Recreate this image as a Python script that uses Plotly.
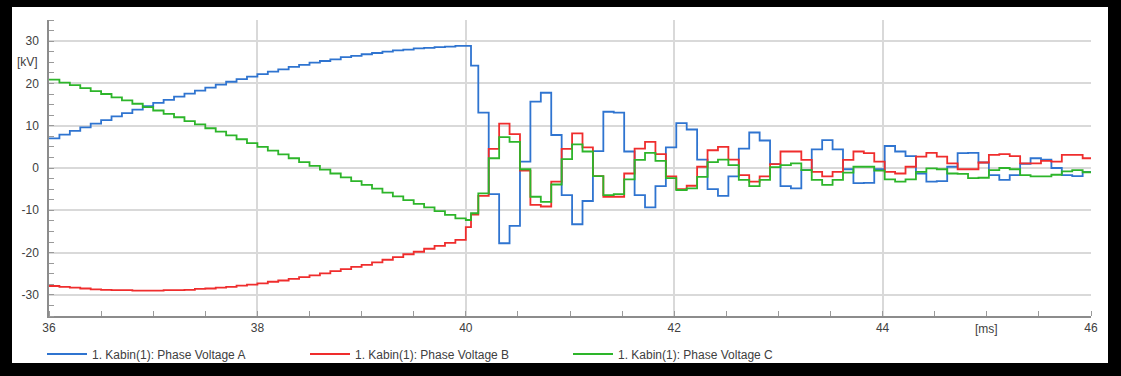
import plotly.graph_objects as go

# Sample times [ms]
time_ms = [36.0, 36.1, 36.2, 36.3, 36.4, 36.5, 36.6, 36.7, 36.8, 36.9,
           37.0, 37.1, 37.2, 37.3, 37.4, 37.5, 37.6, 37.7, 37.8, 37.9,
           38.0, 38.1, 38.2, 38.3, 38.4, 38.5, 38.6, 38.7, 38.8, 38.9,
           39.0, 39.1, 39.2, 39.3, 39.4, 39.5, 39.6, 39.7, 39.8, 39.9,
           40.0, 40.05,
           40.12, 40.22, 40.32, 40.42, 40.52, 40.62, 40.72, 40.82, 40.92, 41.02,
           41.12, 41.22, 41.32, 41.42, 41.52, 41.62, 41.72, 41.82, 41.92, 42.02,
           42.12, 42.22, 42.32, 42.42, 42.52, 42.62, 42.72, 42.82, 42.92, 43.02,
           43.12, 43.22, 43.32, 43.42, 43.52, 43.62, 43.72, 43.82, 43.92, 44.02,
           44.12, 44.22, 44.32, 44.42, 44.52, 44.62, 44.72, 44.82, 44.92, 45.02,
           45.12, 45.22, 45.32, 45.42, 45.52, 45.62, 45.72, 45.82, 45.92,
           46.0]

# Phase voltages [kV]
phase_a = [7.0, 7.9, 8.8, 9.6, 10.5, 11.3, 12.2, 13.0, 13.8, 14.6,
           15.4, 16.1, 16.9, 17.6, 18.3, 19.0, 19.7, 20.4, 21.0, 21.6,
           22.2, 22.8, 23.3, 23.9, 24.4, 24.9, 25.3, 25.7, 26.2, 26.5,
           26.9, 27.2, 27.5, 27.8, 28.0, 28.3, 28.4, 28.6, 28.7, 28.9,
           28.9, 24.2,
           13.1, -6.2, -17.8, -13.7, 1.5, 15.7, 17.8, 7.8, -6.4, -13.3,
           -7.8, 4.0, 13.3, 13.1, 3.9, -6.4, -9.3, -4.3, 4.9, 10.6,
           9.1, 2.0, -5.0, -6.6, -2.0, 4.6, 8.4, 6.5, 0.9, -4.3,
           -4.8, -0.5, 4.4, 6.6, 4.4, -0.3, -3.6, -3.5, -0.3, 5.2,
           3.9, 2.8, -1.3, -3.2, -3.1, 0.3, 3.5, 3.6, 1.3, -1.7,
           -2.8, -1.7, 1.0, 2.3, 2.0, 0.0, -1.7, -1.9, -0.9,
           -0.9]

phase_b = [-27.9, -28.1, -28.3, -28.5, -28.7, -28.8, -28.9, -28.9, -29.0, -29.0,
           -29.0, -28.9, -28.9, -28.8, -28.6, -28.5, -28.3, -28.1, -27.8, -27.6,
           -27.3, -26.9, -26.6, -26.2, -25.8, -25.4, -24.9, -24.4, -23.9, -23.4,
           -22.9, -22.3, -21.7, -21.1, -20.4, -19.8, -19.1, -18.4, -17.7, -17.0,
           -14.0, -11.0,
           -6.6, 4.5, 10.5, 8.0, -0.6, -8.7, -9.1, -3.2, 4.5, 8.2,
           4.9, -1.9, -6.8, -6.8, -1.3, 4.6, 6.2, 3.3, -2.0, -5.0,
           -4.2, 0.3, 4.2, 5.0, 2.0, -1.7, -3.2, -2.0, 0.9, 3.9,
           3.9, 1.9, -0.9, -2.0, -0.9, 1.9, 3.9, 3.5, 1.5, -0.9,
           -1.3, 0.3, 2.7, 3.6, 2.7, 1.1, -0.3, -0.3, 1.3, 3.1,
           3.3, 2.8, 1.1, 1.1, 1.7, 1.5, 3.1, 3.1, 2.3,
           2.3]

phase_c = [20.9, 20.2, 19.6, 18.9, 18.2, 17.5, 16.7, 16.0, 15.2, 14.4,
           13.6, 12.8, 12.0, 11.1, 10.3, 9.4, 8.6, 7.7, 6.8, 5.9,
           5.0, 4.1, 3.2, 2.3, 1.4, 0.5, -0.4, -1.3, -2.2, -3.1,
           -4.0, -4.9, -5.8, -6.7, -7.6, -8.5, -9.3, -10.2, -11.1, -11.9,
           -12.3, -10.7,
           -6.0, 2.3, 7.3, 6.2, -0.3, -6.8, -8.0, -3.9, 2.1, 5.6,
           3.9, -1.9, -6.4, -6.2, -2.7, 1.9, 3.6, 1.7, -2.4, -5.2,
           -4.8, -2.1, 1.4, 2.0, 0.7, -2.8, -4.3, -2.8, 0.2, 0.7,
           1.1, -0.5, -2.8, -4.0, -2.8, -1.1, 0.3, 0.3, -0.6, -2.7,
           -3.2, -2.7, -0.9, -0.1, -0.3, -1.3, -1.4, -2.4, -2.3, -0.5,
           0.0, -0.3, -1.7, -2.0, -2.0, -1.6, -0.8, -0.5, -1.0,
           -1.0]

series_names = ["1. Kabin(1): Phase Voltage A",
                "1. Kabin(1): Phase Voltage B",
                "1. Kabin(1): Phase Voltage C"]
series_colors = ["#2f74d0", "#ef2d2d", "#2db52a"]

x_tick_vals = [36, 38, 40, 42, 44, 46]
y_tick_vals = [-30, -20, -10, 0, 10, 20, 30]

fig = go.Figure()
for name, vals, col in zip(series_names, [phase_a, phase_b, phase_c], series_colors):
    fig.add_trace(go.Scatter(x=time_ms, y=vals, mode="lines", name=name,
                             line=dict(color=col, width=1.8, shape="hv")))

W, H = 1121, 376
ml, mr, mt, mb = 49, 30, 20, 60
pw, ph = W - ml - mr, H - mt - mb

def px(x):
    return (x - ml) / pw

def py(y):
    return (H - mb - y) / ph

font = dict(family="Arial, Liberation Sans, sans-serif", size=12, color="#404040")

fig.update_layout(
    width=W, height=H,
    margin=dict(l=ml, r=mr, t=mt, b=mb, autoexpand=False),
    paper_bgcolor="#000000",
    plot_bgcolor="#ffffff",
    font=font,
    showlegend=True,
    legend=dict(orientation="h", x=px(42), xanchor="left",
                y=py(354), yanchor="middle",
                entrywidth=208, entrywidthmode="pixels",
                font=dict(family="Arial, Liberation Sans, sans-serif", size=12, color="#404040"),
                bgcolor="rgba(0,0,0,0)", itemwidth=40),
    xaxis=dict(range=[36, 46], tickvals=x_tick_vals, ticktext=[str(v) for v in x_tick_vals],
               showgrid=True, gridcolor="#d9d9d9", gridwidth=1.5,
               showline=True, linecolor="#8c8c8c", linewidth=1.5,
               ticks="", zeroline=False, tickfont=font, automargin=False,
               minor=dict(dtick=0.5, tick0=36, ticks="inside", ticklen=5,
                          tickcolor="#9a9a9a", tickwidth=1, showgrid=False)),
    yaxis=dict(range=[-35, 35], tickvals=y_tick_vals, ticktext=[str(v) for v in y_tick_vals],
               showgrid=True, gridcolor="#d9d9d9", gridwidth=1.5,
               showline=True, linecolor="#8c8c8c", linewidth=1.5,
               ticks="", zeroline=False, tickfont=font, automargin=False,
               ticklabelstandoff=6,
               minor=dict(dtick=2.5, tick0=0, ticks="inside", ticklen=5,
                          tickcolor="#9a9a9a", tickwidth=1, showgrid=False)),
    shapes=[dict(type="rect", xref="paper", yref="paper",
                 x0=px(12), x1=px(1108), y0=py(363), y1=py(7),
                 fillcolor="#ffffff", line=dict(width=0), layer="below")],
    annotations=[
        dict(text="[ms]", x=45, xref="x", y=0, yref="paper", yanchor="top",
             yshift=-4, showarrow=False, font=font),
        dict(text="[kV]", x=0, xref="paper", xanchor="right", xshift=-9,
             y=25, yref="y", showarrow=False, font=font),
    ],
)

fig.write_html("out.html",
               config={"displayModeBar": False},
               post_script="document.body.style.margin='0';document.body.style.overflow='hidden';")
